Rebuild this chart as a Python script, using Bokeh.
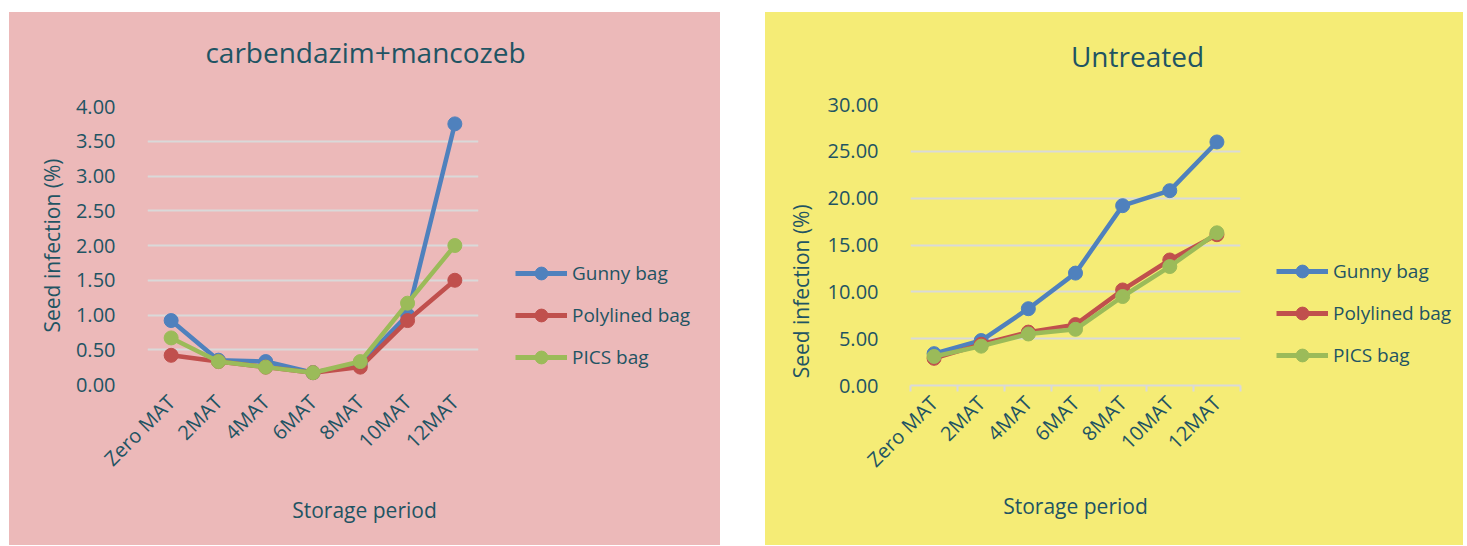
import math
from bokeh.plotting import figure
from bokeh.layouts import row, column
from bokeh.models import (Range1d, FixedTicker, NumeralTickFormatter, Legend, LegendItem, Label)
from bokeh.embed import file_html
from bokeh.resources import INLINE

# ---------------- data ----------------
categories = ["Zero MAT", "2MAT", "4MAT", "6MAT", "8MAT", "10MAT", "12MAT"]
series_names = ["Gunny bag", "Polylined bag", "PICS bag"]

treated_gunny = [0.92, 0.35, 0.33, 0.17, 0.30, 1.00, 3.75]
treated_poly = [0.42, 0.33, 0.25, 0.17, 0.25, 0.92, 1.50]
treated_pics = [0.67, 0.33, 0.25, 0.17, 0.33, 1.17, 2.00]

untreated_gunny = [3.4, 4.8, 8.2, 12.0, 19.2, 20.8, 26.0]
untreated_poly = [2.9, 4.4, 5.7, 6.5, 10.2, 13.4, 16.1]
untreated_pics = [3.1, 4.2, 5.5, 6.0, 9.5, 12.7, 16.3]

treated_yticks = [0.0, 0.5, 1.0, 1.5, 2.0, 2.5, 3.0, 3.5, 4.0]
untreated_yticks = [0, 5, 10, 15, 20, 25, 30]

titles = ["carbendazim+mancozeb", "Untreated"]
x_title = "Storage period"
y_title = "Seed infection (%)"

# ---------------- style ----------------
FONT = "Open Sans"
TXT = "#1F5463"
GRID = "#D9D9D9"
COLORS = ["#4F81BD", "#C0504D", "#9BBB59"]
TITLE_H = 80      # strip holding the chart title
MAIN_H = 398      # strip holding the plot and its tick labels
XLAB_H = 55       # strip holding the x axis title
NBSP = "\u00a0"


def blank(width, height, xr=None, yr=None):
    p = figure(width=width, height=height, output_backend="svg", toolbar_location=None,
               x_range=xr or Range1d(0, width), y_range=yr or Range1d(0, height),
               x_axis_type=None, y_axis_type=None, min_border=0)
    p.background_fill_color = None
    p.border_fill_color = None
    p.outline_line_color = None
    return p


def text_label(x, y, text, size):
    return Label(x=x, y=y, text=text, text_align="center", text_baseline="alphabetic",
                 text_font=FONT, text_font_size=size, text_color=TXT)


def make_panel(title, series, yticks, bg, width, main_w, frame_left, frame_w, frame_top, frame_h,
               title_xy, xlab_xy, ylab_text, ylab_standoff, legend_loc, show_axis_line):
    n = len(categories)
    xs = list(range(n))

    # --- title strip
    pt = blank(width, TITLE_H)
    pt.add_layout(text_label(title_xy[0], title_xy[1], title, "28px"))

    # --- main plot
    p = figure(width=main_w, height=MAIN_H, output_backend="svg", toolbar_location=None,
               x_range=Range1d(-0.5, n - 0.5), y_range=Range1d(yticks[0], yticks[-1]),
               min_border_left=frame_left, min_border_right=main_w - frame_left - frame_w,
               min_border_top=frame_top, min_border_bottom=MAIN_H - frame_top - frame_h)
    p.background_fill_color = None
    p.border_fill_color = None
    p.outline_line_color = None

    p.xgrid.visible = False
    p.ygrid.grid_line_color = GRID
    p.ygrid.grid_line_width = 2

    p.yaxis.ticker = FixedTicker(ticks=yticks)
    p.yaxis.formatter = NumeralTickFormatter(format="0.00")
    p.yaxis.axis_line_color = None
    p.yaxis.major_tick_line_color = None
    p.yaxis.minor_tick_line_color = None
    p.yaxis.major_label_standoff = 26
    p.yaxis.major_label_text_font = FONT
    p.yaxis.major_label_text_font_size = "20px"
    p.yaxis.major_label_text_color = TXT
    p.yaxis.axis_label = ylab_text
    p.yaxis.axis_label_standoff = ylab_standoff
    p.yaxis.axis_label_text_font = FONT
    p.yaxis.axis_label_text_font_size = "21px"
    p.yaxis.axis_label_text_font_style = "normal"
    p.yaxis.axis_label_text_color = TXT

    p.xaxis.ticker = FixedTicker(ticks=xs, minor_ticks=[i - 0.5 for i in range(n + 1)])
    p.xaxis.major_label_overrides = {i: c for i, c in enumerate(categories)}
    p.xaxis.major_label_orientation = math.pi / 4
    p.xaxis.major_tick_line_color = None
    p.xaxis.major_label_standoff = 8
    p.xaxis.major_label_text_font = FONT
    p.xaxis.major_label_text_font_size = "20px"
    p.xaxis.major_label_text_color = TXT
    if show_axis_line:
        p.xaxis.axis_line_color = GRID
        p.xaxis.axis_line_width = 2
        p.xaxis.minor_tick_line_color = GRID
        p.xaxis.minor_tick_line_width = 2
        p.xaxis.minor_tick_in = 0
        p.xaxis.minor_tick_out = 6
    else:
        p.xaxis.axis_line_color = None
        p.xaxis.minor_tick_line_color = None

    # legend strip: the same series drawn off-screen so the legend shows their styles
    pl = blank(width - main_w, MAIN_H, xr=Range1d(1000, 1001), yr=Range1d(1000, 1001))
    items = []
    for name, ys, col in zip(series_names, series, COLORS):
        p.line(xs, ys, line_color=col, line_width=4.5)
        p.scatter(xs, ys, size=14, fill_color=col, line_color=col)
        lr = pl.line(xs, ys, line_color=col, line_width=5)
        sr = pl.scatter(xs, ys, size=14, fill_color=col, line_color=col)
        items.append(LegendItem(label=name, renderers=[lr, sr]))
    legend = Legend(items=items, location=legend_loc, orientation="vertical",
                    glyph_width=52, glyph_height=32, label_height=20, spacing=10,
                    padding=0, margin=0, label_standoff=5,
                    background_fill_alpha=0, border_line_color=None,
                    label_text_font=FONT, label_text_font_size="19px", label_text_color=TXT)
    pl.add_layout(legend)

    # x axis title strip
    px = blank(width, XLAB_H)
    px.add_layout(text_label(xlab_xy[0], xlab_xy[1], x_title, "21px"))

    panel = column(pt, row(p, pl), px)
    panel.styles = {"background-color": bg}
    return panel


panel1 = make_panel(titles[0], [treated_gunny, treated_poly, treated_pics], treated_yticks, "#ECB9B9",
                    width=711, main_w=496, frame_left=138, frame_w=331, frame_top=14, frame_h=278,
                    title_xy=(356, 41), xlab_xy=(355, 36), ylab_text=y_title, ylab_standoff=7,
                    legend_loc=(10, 11), show_axis_line=False)

panel2 = make_panel(titles[1], [untreated_gunny, untreated_poly, untreated_pics], untreated_yticks, "#F5EC76",
                    width=698, main_w=501, frame_left=145, frame_w=330, frame_top=12, frame_h=281,
                    title_xy=(372, 37), xlab_xy=(310, 40), ylab_text=y_title + NBSP * 17, ylab_standoff=10,
                    legend_loc=(10, 14), show_axis_line=True)

panel1.margin = (12, 0, 0, 9)
panel2.margin = (12, 0, 0, 45)

layout = row(panel1, panel2)
open("out.html", "w").write(file_html(layout, INLINE))
